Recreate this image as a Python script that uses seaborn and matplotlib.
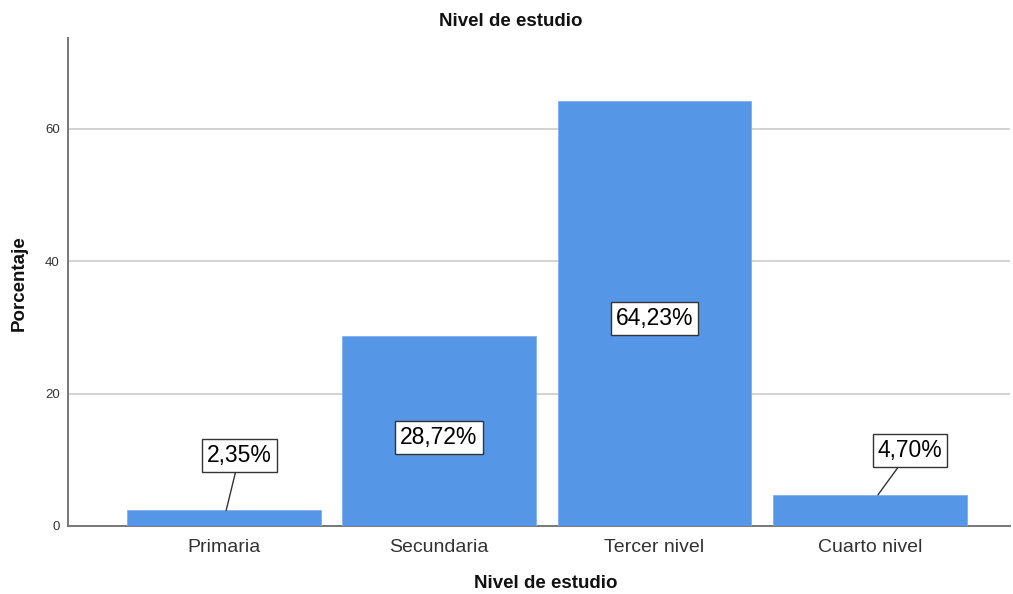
import matplotlib
matplotlib.use("Agg")
import matplotlib.pyplot as plt
import seaborn as sns
import pandas as pd

categories = ["Primaria", "Secundaria", "Tercer nivel", "Cuarto nivel"]
percentages = [2.35, 28.72, 64.23, 4.70]
labels = ["2,35%", "28,72%", "64,23%", "4,70%"]
yticks = [0, 20, 40, 60]

df = pd.DataFrame({"Nivel": categories, "Porcentaje": percentages})

sns.set_theme(style="white")
plt.rcParams["font.family"] = ["Liberation Sans", "DejaVu Sans"]

fig = plt.figure(figsize=(10.13, 5.94), dpi=100)
ax = fig.add_axes([68 / 1013, 68 / 594, (1010 - 68) / 1013, (526 - 38) / 594])

sns.barplot(data=df, x="Nivel", y="Porcentaje", color="#5596e6", width=0.9,
            saturation=1, ax=ax, zorder=3, edgecolor="#7fb0ee", linewidth=0.6)

ax.set_xlim(-0.722, 3.65)
ax.set_ylim(0, 73.75)
ax.set_yticks(yticks)
ax.set_yticklabels([str(t) for t in yticks], fontsize=9.5, color="#333333")
ax.tick_params(axis="x", labelsize=14, colors="#333333", length=0, pad=9)
ax.tick_params(axis="y", length=0, pad=6)
ax.yaxis.grid(True, color="#c8c8c8", linewidth=1.1, zorder=0)
ax.xaxis.grid(False)
for s in ["top", "right"]:
    ax.spines[s].set_visible(False)
for s in ["left", "bottom"]:
    ax.spines[s].set_color("#777777")
    ax.spines[s].set_linewidth(1.4)
ax.set_xlabel("")
ax.set_ylabel("")

box = dict(boxstyle="square,pad=0.22", facecolor="white", edgecolor="#333333", linewidth=1.0)
# label placements (data coords): (box x, box y, arrow anchor x offset or None)
placements = [(0.074, 10.6, 0.012), (0.0, 13.4, None), (0.0, 31.4, None), (0.186, 11.35, 0.037)]
for i, (lab, val, (bx, by, ax_off)) in enumerate(zip(labels, percentages, placements)):
    if ax_off is None:
        ax.text(i + bx, by, lab, ha="center", va="center", fontsize=16.5,
                color="black", bbox=box, zorder=5)
    else:
        ax.annotate(lab, xy=(i + ax_off, val), xytext=(i + bx, by),
                    ha="center", va="center", fontsize=16.5, color="black",
                    bbox=box, zorder=5,
                    arrowprops=dict(arrowstyle="-", color="#333333", lw=1.0,
                                    shrinkA=0, shrinkB=0))

fig.text(511 / 1013, 1 - 22 / 594, "Nivel de estudio", ha="center", va="center",
         fontsize=13.5, fontweight="bold", color="#111111")
fig.text(546 / 1013, 1 - 584 / 594, "Nivel de estudio", ha="center", va="center",
         fontsize=13.5, fontweight="bold", color="#111111")
fig.text(19 / 1013, 1 - 283 / 594, "Porcentaje", ha="center", va="center",
         rotation=90, fontsize=13.5, fontweight="bold", color="#111111")

fig.savefig("out.png", dpi=100, facecolor="white")
